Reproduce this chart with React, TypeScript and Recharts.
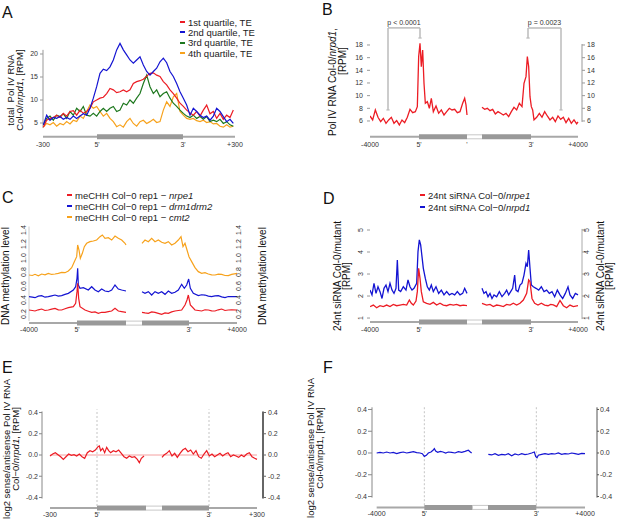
import React from "react";
import { LineChart, Line, XAxis, YAxis, ReferenceLine } from "recharts";

const FONT = '"Liberation Sans", Arial, sans-serif';
const RED = "#ec1c24";
const BLUE = "#1414d2";
const GREEN = "#1e781e";
const ORANGE = "#f7a21c";

// ---- A: total Pol IV RNA by TE quartile (one value every 10 bins, from bin 10)
const q1 = [4.1, 5.6, 6.0, 6.2, 6.7, 6.2, 7.1, 6.5, 7.5, 7.7, 6.7, 7.8, 7.1, 7.5, 8.2, 9.6, 10.0, 10.4, 10.6, 11.4, 12.5, 12.2, 11.6, 11.8, 12.2, 11.8, 12.2, 13.6, 14.0, 14.2, 14.5, 15.2, 15.8, 15.9, 15.4, 15.1, 14.0, 13.3, 12.2, 11.4, 10.4, 9.3, 8.6, 7.8, 7.2, 6.7, 7.5, 6.5, 7.8, 8.9, 7.0, 7.5, 6.0, 7.1, 5.8, 6.7, 6.2, 7.8];
const q2 = [4.6, 6.7, 5.6, 6.2, 6.0, 6.4, 5.8, 6.2, 5.8, 6.5, 6.0, 6.5, 7.0, 6.7, 8.2, 10.4, 12.9, 15.8, 16.7, 16.4, 17.2, 18.7, 20.9, 22.3, 20.9, 19.8, 18.7, 18.0, 18.7, 19.4, 17.6, 16.2, 15.4, 16.2, 16.9, 18.3, 19.1, 18.1, 16.2, 15.1, 13.6, 11.8, 10.4, 8.9, 6.7, 8.2, 7.5, 6.7, 6.2, 6.5, 5.6, 6.5, 8.2, 7.5, 6.4, 5.3, 5.8, 4.9];
const q3 = [4.6, 6.0, 6.5, 5.6, 6.7, 6.4, 7.0, 6.0, 7.5, 6.7, 8.2, 7.5, 8.6, 6.7, 6.5, 7.1, 6.5, 7.5, 8.2, 7.5, 8.2, 8.6, 7.5, 7.8, 9.3, 8.9, 10.0, 9.3, 10.4, 11.4, 13.6, 15.4, 12.9, 11.4, 12.2, 10.7, 11.4, 11.8, 10.4, 9.3, 8.6, 7.8, 7.1, 6.5, 6.2, 6.7, 6.0, 6.4, 5.8, 6.4, 5.3, 5.6, 5.3, 5.8, 4.9, 5.3, 4.6, 4.3];
const q4 = [4.1, 4.9, 4.6, 5.1, 4.3, 4.9, 4.6, 5.3, 4.8, 5.6, 5.3, 6.5, 6.0, 7.5, 8.9, 8.2, 8.6, 7.5, 6.5, 7.1, 6.0, 5.3, 4.2, 4.6, 4.1, 5.3, 6.0, 4.9, 4.3, 5.3, 5.6, 4.9, 5.3, 5.8, 5.1, 5.3, 7.8, 9.6, 8.6, 10.7, 11.4, 7.5, 6.7, 6.0, 5.8, 6.0, 5.5, 5.3, 5.6, 5.1, 5.3, 4.8, 4.9, 4.3, 4.1, 4.6, 4.1, 4.3];
const aRows = q1.map((v, i) => ({ bin: 10 + i * 10, q1: v, q2: q2[i], q3: q3[i], q4: q4[i] }));
const aTicks = [9, 171, 429, 585];
const aTickNames = ["-300", "5'", "3'", "+300"];

// ---- B: Pol IV RNA Col-0/nrpd1 [bin, RPM]
const bLeft = [[30, 6.79], [38, 6.16], [46, 7.74], [54, 6.58], [62, 5.89], [70, 6.42], [78, 5.63], [86, 6.16], [94, 6.58], [102, 5.63], [110, 6.05], [118, 5.37], [126, 6.16], [134, 5.74], [142, 6.58], [150, 7.84], [158, 7.32], [166, 7.47], [172, 8.26], [176, 16.16], [180, 18.26], [184, 14.58], [188, 17.21], [192, 11.95], [196, 8.79], [202, 9.05], [208, 8.0], [214, 9.58], [220, 7.47], [228, 8.37], [236, 7.21], [244, 7.74], [252, 6.95], [260, 7.47], [268, 8.0], [276, 7.74], [284, 7.84], [292, 7.32], [300, 7.47], [308, 8.79], [314, 9.58], [318, 8.53], [321, 6.95]];
const bRight = [[366, 8.16], [374, 7.84], [382, 8.0], [390, 7.63], [398, 7.84], [406, 7.11], [414, 7.47], [422, 7.21], [430, 6.95], [438, 7.21], [446, 6.68], [454, 7.47], [462, 8.16], [470, 7.74], [478, 8.79], [486, 8.26], [492, 11.95], [498, 13.0], [502, 16.16], [506, 14.58], [510, 9.84], [514, 8.26], [518, 7.74], [522, 6.16], [530, 6.58], [538, 7.21], [546, 6.58], [554, 7.47], [562, 6.79], [570, 6.16], [578, 6.58], [586, 5.89], [594, 6.79], [602, 6.26], [610, 6.58], [618, 5.74], [626, 6.42], [634, 5.63], [642, 6.16], [650, 5.53], [654, 5.84]];
const bBrackets = [
  { x1: 84, x2: 180, top: 20.7, y1: 7.74, y2: 19.1, label: "p < 0.0001" },
  { x1: 504, x2: 603, top: 20.7, y1: 19.1, y2: 7.74, label: "p = 0.0023" },
];
const bTicks = [30, 177, 321, 513, 654];
const bTickNames = ["-4000", "5'", "'", "3'", "+4000"];

// ---- C: CHH methylation [bin, level]
const cOrangeL = [[12, 0.757], [22, 0.75], [30, 0.767], [40, 0.745], [50, 0.771], [60, 0.76], [70, 0.781], [80, 0.765], [90, 0.771], [100, 0.78], [110, 0.795], [120, 0.79], [130, 0.814], [140, 0.862], [148, 0.948], [155, 1.019], [158, 1.186], [162, 1.114], [166, 0.995], [172, 1.067], [178, 1.162], [185, 1.21], [195, 1.233], [205, 1.243], [215, 1.257], [225, 1.305], [232, 1.329], [240, 1.281], [250, 1.29], [260, 1.257], [270, 1.314], [280, 1.281], [290, 1.257], [300, 1.21], [303, 1.186]];
const cOrangeR = [[351, 1.21], [360, 1.257], [370, 1.233], [380, 1.281], [390, 1.233], [400, 1.257], [410, 1.224], [420, 1.21], [430, 1.233], [440, 1.186], [450, 1.21], [460, 1.257], [468, 1.305], [474, 1.162], [480, 1.21], [486, 1.114], [492, 1.019], [500, 0.948], [510, 0.862], [520, 0.805], [530, 0.781], [540, 0.79], [550, 0.771], [560, 0.76], [570, 0.757], [580, 0.77], [590, 0.767], [600, 0.75], [610, 0.748], [620, 0.765], [636, 0.781]];
const cBlueL = [[12, 0.448], [22, 0.44], [30, 0.433], [40, 0.455], [50, 0.462], [60, 0.44], [70, 0.448], [80, 0.46], [90, 0.471], [100, 0.455], [110, 0.462], [120, 0.48], [130, 0.495], [145, 0.543], [152, 0.59], [156, 0.71], [158, 0.852], [160, 0.614], [165, 0.567], [175, 0.576], [190, 0.543], [200, 0.59], [210, 0.543], [220, 0.519], [230, 0.557], [240, 0.529], [250, 0.519], [260, 0.543], [270, 0.614], [280, 0.557], [290, 0.543], [303, 0.529]];
const cBlueR = [[351, 0.519], [360, 0.495], [370, 0.519], [380, 0.471], [390, 0.519], [400, 0.495], [410, 0.519], [420, 0.481], [430, 0.529], [440, 0.495], [450, 0.51], [460, 0.543], [470, 0.624], [478, 0.567], [485, 0.614], [491, 0.7], [496, 0.567], [505, 0.495], [520, 0.462], [530, 0.475], [540, 0.471], [550, 0.455], [560, 0.448], [570, 0.46], [580, 0.462], [590, 0.445], [600, 0.433], [610, 0.45], [620, 0.448], [636, 0.448]];
const cRedL = [[12, 0.257], [22, 0.25], [30, 0.243], [40, 0.26], [50, 0.271], [60, 0.25], [70, 0.257], [80, 0.27], [90, 0.281], [100, 0.26], [110, 0.257], [120, 0.275], [130, 0.29], [145, 0.305], [152, 0.352], [156, 0.519], [158, 0.638], [161, 0.424], [165, 0.305], [180, 0.257], [190, 0.24], [200, 0.224], [210, 0.23], [220, 0.21], [230, 0.225], [240, 0.224], [250, 0.235], [260, 0.243], [270, 0.281], [280, 0.243], [290, 0.235], [303, 0.224]];
const cRedR = [[351, 0.224], [360, 0.215], [370, 0.21], [380, 0.23], [390, 0.224], [400, 0.21], [410, 0.195], [420, 0.215], [430, 0.21], [440, 0.23], [450, 0.243], [460, 0.25], [470, 0.257], [480, 0.329], [486, 0.4], [490, 0.471], [496, 0.329], [510, 0.257], [520, 0.25], [530, 0.243], [540, 0.26], [550, 0.257], [560, 0.245], [570, 0.243], [580, 0.26], [590, 0.271], [600, 0.25], [610, 0.257], [620, 0.26], [636, 0.257]];
const cTicks = [12, 156, 492, 636];
const cTickNames = ["-4000", "5'", "3'", "+4000"];
const cYTicks = [0.2, 0.4, 0.6, 0.8, 1.0, 1.2, 1.4];

// ---- D: 24nt siRNA Col-0/mutant [bin, RPM]
const dBlueL = [[30, 2.27], [36, 2.05], [42, 2.58], [48, 2.12], [54, 2.42], [60, 2.2], [66, 1.89], [72, 2.35], [78, 2.5], [84, 2.2], [90, 2.58], [96, 2.27], [102, 2.12], [108, 2.35], [112, 3.64], [116, 2.27], [122, 2.2], [130, 2.42], [138, 2.27], [144, 2.73], [150, 2.42], [156, 2.27], [162, 2.35], [170, 2.58], [174, 4.02], [178, 4.55], [182, 4.32], [186, 3.79], [190, 3.26], [196, 2.8], [202, 2.42], [208, 2.27], [214, 2.5], [220, 2.2], [228, 2.42], [236, 2.12], [244, 2.27], [252, 2.05], [260, 2.2], [268, 2.05], [276, 2.12], [284, 2.05], [292, 2.2], [300, 2.05], [308, 2.12], [314, 2.35], [321, 2.12]];
const dBlueR = [[366, 2.35], [372, 2.12], [378, 2.2], [384, 1.97], [390, 2.12], [396, 1.89], [402, 2.05], [410, 1.97], [418, 2.2], [426, 1.97], [434, 2.12], [440, 2.27], [446, 2.05], [452, 2.2], [458, 2.35], [464, 2.95], [468, 2.27], [474, 2.2], [480, 2.5], [486, 2.58], [492, 2.95], [498, 3.48], [502, 3.33], [506, 4.09], [510, 3.26], [514, 2.5], [520, 2.42], [528, 2.35], [536, 2.27], [544, 2.42], [552, 2.2], [560, 2.27], [568, 2.12], [576, 2.2], [584, 1.97], [592, 2.27], [600, 2.05], [608, 1.89], [616, 2.12], [624, 2.42], [630, 2.05], [638, 1.89], [646, 2.12], [654, 2.05]];
const dRedL = [[30, 1.52], [40, 1.59], [50, 1.47], [60, 1.56], [70, 1.52], [80, 1.59], [90, 1.52], [100, 1.62], [110, 1.56], [120, 1.59], [130, 1.62], [140, 1.59], [148, 1.82], [154, 1.67], [160, 1.59], [168, 1.77], [172, 2.2], [176, 3.26], [180, 2.8], [184, 2.2], [190, 1.74], [200, 1.67], [210, 1.62], [220, 1.71], [230, 1.59], [240, 1.67], [250, 1.59], [260, 1.56], [270, 1.62], [280, 1.59], [290, 1.62], [300, 1.56], [310, 1.59], [321, 1.56]];
const dRedR = [[366, 1.67], [380, 1.59], [390, 1.62], [400, 1.52], [410, 1.59], [420, 1.56], [430, 1.52], [440, 1.62], [450, 1.59], [460, 1.67], [470, 1.59], [480, 1.67], [490, 1.82], [500, 2.12], [506, 2.73], [510, 2.65], [516, 1.89], [524, 1.67], [534, 1.59], [544, 1.67], [554, 1.59], [564, 1.56], [572, 1.62], [580, 1.6], [590, 1.52], [600, 1.8], [610, 1.56], [620, 1.47], [630, 1.59], [640, 1.52], [654, 1.56]];
const dTicks = [30, 177, 513, 654];
const dTickNames = ["-4000", "5'", "3'", "+4000"];

// ---- E / F: log2 sense/antisense [bin, log2]
const eLeft = [[30, -0.009], [38, 0.009], [46, 0.022], [54, 0.003], [62, -0.016], [70, -0.041], [78, -0.016], [86, 0.009], [94, -0.003], [102, 0.003], [110, -0.009], [118, 0.009], [126, -0.016], [134, -0.031], [142, 0.022], [150, 0.041], [158, 0.031], [166, 0.047], [174, 0.078], [178, 0.085], [182, 0.041], [188, 0.063], [194, 0.022], [200, 0.072], [206, 0.041], [212, 0.022], [220, 0.041], [228, 0.031], [236, 0.047], [244, 0.016], [252, -0.016], [260, -0.031], [268, -0.009], [276, -0.022], [284, -0.016], [292, -0.041], [298, -0.072], [304, -0.031], [312, -0.009]];
const eRight = [[366, -0.022], [372, 0], [380, 0.016], [388, 0.041], [396, -0.009], [404, 0.016], [412, -0.022], [420, 0.016], [428, 0.047], [436, 0.063], [444, 0.031], [452, 0.047], [460, 0.009], [468, 0.041], [476, -0.016], [484, -0.031], [492, 0.009], [500, 0.041], [508, -0.009], [516, 0.009], [524, -0.016], [532, 0], [540, 0.016], [548, -0.009], [556, 0.009], [564, 0.022], [572, -0.016], [580, 0], [588, -0.009], [596, -0.022], [604, 0], [612, -0.016], [620, 0.009], [628, 0.022], [636, -0.016], [644, -0.031], [651, -0.041]];
const eTicks = [30, 171, 507, 651];
const eTickNames = ["-300", "5'", "3'", "+300"];
const fLeft = [[215, 0], [225, 0.006], [235, 0], [245, 0.009], [255, 0], [265, 0.006], [275, -0.006], [285, 0.003], [295, 0.009], [305, 0], [315, 0.006], [325, 0.012], [335, 0.003], [345, 0], [352, -0.006], [358, -0.031], [364, -0.021], [370, 0], [378, 0.009], [384, 0.025], [388, 0.04], [392, 0.018], [398, 0.006], [406, 0.015], [414, 0.009], [422, 0], [430, 0.009], [440, 0.006], [450, 0], [460, 0.012], [470, 0.006], [480, 0.015], [490, 0.025], [496, 0.009], [500, 0]];
const fRight = [[550, -0.012], [560, -0.018], [570, -0.006], [580, -0.021], [590, -0.012], [600, -0.018], [610, -0.006], [620, -0.025], [630, -0.009], [640, -0.018], [650, -0.006], [660, -0.015], [670, -0.009], [680, 0], [688, 0.009], [692, -0.031], [696, -0.043], [700, -0.021], [710, -0.012], [720, -0.006], [730, -0.012], [740, -0.006], [750, -0.009], [760, 0], [770, -0.012], [780, -0.006], [790, -0.009], [800, 0], [810, -0.006], [820, -0.012], [830, -0.003], [840, -0.006]];
const fTicks = [215, 358, 694, 840];
const fTickNames = ["-4000", "5'", "3'", "+4000"];
const efYTicks = [-0.4, -0.2, 0, 0.2, 0.4];

// gene model positions (bins)
type Gene = { start: number; s5: number; s3: number; end: number; gap?: [number, number] };
const aGene: Gene = { start: 9, s5: 171, s3: 429, end: 585 };
const bGene: Gene = { start: 30, s5: 177, s3: 513, end: 654, gap: [321, 366] };
const cGene: Gene = { start: 12, s5: 156, s3: 492, end: 636, gap: [303, 351] };
const eGene: Gene = { start: 30, s5: 171, s3: 507, end: 651, gap: [318, 366] };
const fGene: Gene = { start: 215, s5: 358, s3: 694, end: 840, gap: [503, 549] };

const aLegend = [
  { color: RED, text: "1st quartile, TE" },
  { color: BLUE, text: "2nd quartile, TE" },
  { color: GREEN, text: "3rd quartile, TE" },
  { color: ORANGE, text: "4th quartile, TE" },
];
const cLegend = [
  { color: RED, text: "meCHH Col\u22120 rep1 \u2212 ", it: "nrpe1" },
  { color: BLUE, text: "meCHH Col\u22120 rep1 \u2212 ", it: "drm1drm2" },
  { color: ORANGE, text: "meCHH Col\u22120 rep1 \u2212 ", it: "cmt2" },
];
const dLegend = [
  { color: RED, text: "24nt siRNA Col\u22120/", it: "nrpe1" },
  { color: BLUE, text: "24nt siRNA Col\u22120/", it: "nrpd1" },
];

const pts = (a: number[][]) => a.map(([bin, v]) => ({ bin, v }));
const names = (ticks: number[], labels: string[]) => (v: number) => labels[ticks.indexOf(v)] ?? "";
const tickFont = { fontSize: 7, fill: "#333" };

const seg = (key: string, x1: number, x2: number, y: number, stroke: string, w: number) => (
  <ReferenceLine key={key} yAxisId="l" ifOverflow="visible" segment={[{ x: x1, y }, { x: x2, y }]} stroke={stroke} strokeWidth={w} />
);
const vseg = (key: string, x: number, y1: number, y2: number, stroke: string, w = 1, dash?: string) => (
  <ReferenceLine key={key} yAxisId="l" ifOverflow="visible" segment={[{ x, y: y1 }, { x, y: y2 }]} stroke={stroke} strokeWidth={w} strokeDasharray={dash} />
);

const geneBar = (g: Gene, y: number) => {
  const els = [seg("thin", g.start, g.end, y, "#a8a8a8", 2)];
  if (g.gap) {
    els.push(seg("b1", g.s5, g.gap[0], y, "#999", 5));
    els.push(seg("b2", g.gap[1], g.s3, y, "#999", 5));
    els.push(seg("g1", g.gap[0], g.gap[1], y, "#c8c8c8", 5));
    els.push(seg("g2", g.gap[0], g.gap[1], y, "#fff", 3));
  } else {
    els.push(seg("b", g.s5, g.s3, y, "#999", 5));
  }
  return els;
};

const RotTick = (props: any) => {
  const { x, y, payload, digits } = props;
  return (
    <text x={x} y={y} dy="0.35em" textAnchor="middle" fontSize={7} fill="#333" transform={`rotate(-90 ${x} ${y})`}>
      {Number(payload.value).toFixed(digits)}
    </text>
  );
};

// p-value text drawn above the bracket's top bar
const pLabel = (text: string) => (p: any) => {
  const vb = p.viewBox || {};
  const cx = (vb.x ?? 0) + (vb.width ?? 0) / 2;
  return (
    <text x={cx} y={(vb.y ?? 0) - 3} textAnchor="middle" fontSize={7} fill="#333" stroke="none">
      {text}
    </text>
  );
};

const Series = (key: string, data: number[][], color: string, w = 1.2) => (
  <Line key={key} yAxisId="l" data={pts(data)} dataKey="v" stroke={color} strokeWidth={w} dot={false} isAnimationActive={false} />
);

const MiniLegend = ({ left, top, rowH, items }: { left: number; top: number; rowH: number; items: { color: string; text: string; it?: string }[] }) => (
  <div style={{ position: "absolute", left, top, fontSize: 9.5, color: "#222", whiteSpace: "nowrap" }}>
    {items.map((d, i) => (
      <div key={i} style={{ display: "flex", alignItems: "center", height: rowH }}>
        <span style={{ display: "inline-block", width: 5, height: 2, background: d.color, marginRight: 3 }} />
        <span>
          {d.text}
          {d.it && <i>{d.it}</i>}
        </span>
      </div>
    ))}
  </div>
);

const VLabel = ({ x, y, size = 9.5, children }: { x: number; y: number; size?: number; children: React.ReactNode }) => (
  <div
    style={{
      position: "absolute", left: x, top: y, fontSize: size, lineHeight: "9px", color: "#111",
      whiteSpace: "pre", textAlign: "center", transform: "translate(-50%, -50%) rotate(-90deg)",
    }}
  >
    {children}
  </div>
);

const Letter = ({ x, y, t }: { x: number; y: number; t: string }) => (
  <div style={{ position: "absolute", left: x, top: y, fontSize: 16, lineHeight: 1, color: "#111" }}>{t}</div>
);

const Box = ({ left, top, children }: { left: number; top: number; children: React.ReactNode }) => (
  <div style={{ position: "absolute", left, top }}>{children}</div>
);

export default function App() {
  return (
    <div style={{ position: "absolute", left: 0, top: 0, width: 617, height: 525, background: "#fff", fontFamily: FONT, overflow: "hidden" }}>
      {/* A */}
      <Box left={0} top={0}>
        <LineChart width={300} height={160} data={aRows} margin={{ top: 40.2, right: 65, bottom: 3.2, left: 23 }}>
          <XAxis dataKey="bin" type="number" domain={[9, 585]} allowDataOverflow ticks={aTicks} interval={0} tickFormatter={names(aTicks, aTickNames)} axisLine={false} tickLine={false} tickSize={4} tickMargin={1} height={20} tick={tickFont} />
          <YAxis yAxisId="l" type="number" domain={[2, 23]} allowDataOverflow ticks={[5, 10, 15, 20]} interval={0} width={20} axisLine={false} tickLine={{ stroke: "#999" }} tickSize={3} tickMargin={2} tick={tickFont} />
          {geneBar(aGene, 2)}
          {vseg("axA", 9, 3.9, 20.9, "#999")}
          <Line yAxisId="l" dataKey="q4" stroke={ORANGE} strokeWidth={1.2} dot={false} isAnimationActive={false} />
          <Line yAxisId="l" dataKey="q3" stroke={GREEN} strokeWidth={1.2} dot={false} isAnimationActive={false} />
          <Line yAxisId="l" dataKey="q1" stroke={RED} strokeWidth={1.2} dot={false} isAnimationActive={false} />
          <Line yAxisId="l" dataKey="q2" stroke={BLUE} strokeWidth={1.2} dot={false} isAnimationActive={false} />
        </LineChart>
      </Box>
      <MiniLegend left={180} top={16.8} rowH={10.4} items={aLegend} />
      <VLabel x={14.5} y={90} size={9.5}>
        {"total  Pol IV RNA\nCol-0/"}<i>nrpd1</i>{", [RPM]"}
      </VLabel>
      <Letter x={2} y={4.7} t="A" />

      {/* B */}
      <Box left={305} top={0}>
        <LineChart width={312} height={160} margin={{ top: 26, right: 13, bottom: 3.2, left: 43 }}>
          <XAxis dataKey="bin" type="number" domain={[30, 666]} allowDataOverflow ticks={bTicks} interval={0} tickFormatter={names(bTicks, bTickNames)} axisLine={false} tickLine={false} tickSize={4} tickMargin={1} height={20} tick={tickFont} />
          <YAxis yAxisId="l" type="number" domain={[3.5, 21]} allowDataOverflow ticks={[6, 8, 10, 12, 14, 16, 18]} interval={0} width={22} axisLine={false} tickLine={{ stroke: "#999" }} tickSize={3} tickMargin={4} tick={tickFont} />
          <YAxis yAxisId="r" orientation="right" type="number" domain={[3.5, 21]} allowDataOverflow ticks={[6, 8, 10, 12, 14, 16, 18]} interval={0} width={22} axisLine={false} tickLine={{ stroke: "#999" }} tickSize={3} tickMargin={2} tick={tickFont} />
          {geneBar(bGene, 3.5)}
          {vseg("axB", 666, 5.85, 18.15, "#999")}
          {bBrackets.flatMap((k, i) => [
            <ReferenceLine key={`bt${i}`} yAxisId="l" ifOverflow="visible" segment={[{ x: k.x1, y: k.top }, { x: k.x2, y: k.top }]} stroke="#bbb" strokeWidth={1.5} label={pLabel(k.label)} />,
            vseg(`bl${i}`, k.x1, k.y1, k.top, "#bbb", 1.5),
            vseg(`br${i}`, k.x2, k.y2, k.top, "#bbb", 1.5),
            seg(`bla${i}`, k.x1 - 5, k.x1 + 5, k.y1, "#bbb", 1.2),
            seg(`bra${i}`, k.x2 - 5, k.x2 + 5, k.y2, "#bbb", 1.2),
          ])}
          {Series("bl", bLeft, RED, 1.3)}
          {Series("br", bRight, RED, 1.3)}
        </LineChart>
      </Box>
      <VLabel x={332} y={82} size={10}>
        {"Pol IV RNA Col-0/"}<i>nrpd1</i>{","}
      </VLabel>
      <VLabel x={342} y={61} size={10}>{"[RPM]"}</VLabel>
      <Letter x={322} y={2} t="B" />

      {/* C */}
      <Box left={0} top={170}>
        <LineChart width={300} height={175} margin={{ top: 56.5, right: 51, bottom: 3.9, left: 17 }}>
          <XAxis dataKey="bin" type="number" domain={[12, 636]} allowDataOverflow ticks={cTicks} interval={0} tickFormatter={names(cTicks, cTickNames)} axisLine={false} tickLine={false} tickSize={3} tickMargin={1} height={18} tick={tickFont} />
          <YAxis yAxisId="l" type="number" domain={[0.07, 1.45]} allowDataOverflow ticks={cYTicks} interval={0} width={12} axisLine={false} tickLine={false} tickSize={1} tickMargin={4} tick={<RotTick digits={1} />} />
          <YAxis yAxisId="r" orientation="right" type="number" domain={[0.07, 1.45]} allowDataOverflow ticks={cYTicks} interval={0} width={12} axisLine={false} tickLine={false} tickSize={1} tickMargin={1} tick={<RotTick digits={1} />} />
          {geneBar(cGene, 0.07)}
          {vseg("axC", 12, 0.1, 1.45, "#ccc")}
          {Series("col", cOrangeL, ORANGE)}
          {Series("cor", cOrangeR, ORANGE)}
          {Series("cbl", cBlueL, BLUE)}
          {Series("cbr", cBlueR, BLUE)}
          {Series("crl", cRedL, RED)}
          {Series("crr", cRedR, RED)}
        </LineChart>
      </Box>
      <MiniLegend left={67} top={189.5} rowH={11} items={cLegend} />
      <VLabel x={5} y={276} size={10}>{"DNA methylation level"}</VLabel>
      <VLabel x={262} y={276} size={10}>{"DNA methylation level"}</VLabel>
      <Letter x={2} y={190} t="C" />

      {/* D */}
      <Box left={305} top={170}>
        <LineChart width={312} height={175} margin={{ top: 57.8, right: 15, bottom: 3, left: 45 }}>
          <XAxis dataKey="bin" type="number" domain={[30, 666]} allowDataOverflow ticks={dTicks} interval={0} tickFormatter={names(dTicks, dTickNames)} axisLine={false} tickLine={false} tickSize={4} tickMargin={1} height={20} tick={tickFont} />
          <YAxis yAxisId="l" type="number" domain={[0.82, 5.1]} allowDataOverflow ticks={[1, 2, 3, 4, 5]} interval={0} width={20} axisLine={false} tickLine={{ stroke: "#999" }} tickSize={3} tickMargin={6} tick={<RotTick digits={0} />} />
          <YAxis yAxisId="r" orientation="right" type="number" domain={[0.82, 5.1]} allowDataOverflow ticks={[1, 2, 3, 4, 5]} interval={0} width={20} axisLine={false} tickLine={{ stroke: "#999" }} tickSize={3} tickMargin={2} tick={<RotTick digits={0} />} />
          {geneBar(bGene, 0.82)}
          {vseg("axD", 666, 0.95, 5.05, "#aaa")}
          {Series("dbl", dBlueL, BLUE, 1.3)}
          {Series("dbr", dBlueR, BLUE, 1.3)}
          {Series("drl", dRedL, RED, 1.3)}
          {Series("drr", dRedR, RED, 1.3)}
        </LineChart>
      </Box>
      <MiniLegend left={420} top={189} rowH={12} items={dLegend} />
      <VLabel x={342} y={276} size={10}>{"24nt siRNA Col-0/mutant\n[RPM]"}</VLabel>
      <VLabel x={605} y={276} size={10}>{"24nt siRNA Col-0/mutant\n[RPM]"}</VLabel>
      <Letter x={323} y={191} t="D" />

      {/* E */}
      <Box left={0} top={340}>
        <LineChart width={300} height={185} margin={{ top: 70.4, right: 12, bottom: 2.9, left: 20 }}>
          <XAxis dataKey="bin" type="number" domain={[6, 669]} allowDataOverflow ticks={eTicks} interval={0} tickFormatter={names(eTicks, eTickNames)} axisLine={false} tickLine={false} tickSize={3} tickMargin={1} height={14} tick={tickFont} />
          <YAxis yAxisId="l" type="number" domain={[-0.5, 0.42]} allowDataOverflow ticks={efYTicks} interval={0} width={22} axisLine={false} tickLine={{ stroke: "#888" }} tickSize={3} tickMargin={1} tick={tickFont} tickFormatter={(v: number) => v.toFixed(1)} />
          <YAxis yAxisId="r" orientation="right" type="number" domain={[-0.5, 0.42]} allowDataOverflow ticks={efYTicks} interval={0} width={25} axisLine={false} tickLine={{ stroke: "#666" }} tickSize={3} tickMargin={2} tick={tickFont} tickFormatter={(v: number) => v.toFixed(1)} />
          {geneBar(eGene, -0.5)}
          {vseg("axEl", 6, -0.41, 0.41, "#888")}
          {vseg("axEr", 669, -0.41, 0.41, "#666", 2)}
          {vseg("e5", eGene.s5, -0.48, 0.43, "#c4c4c4", 1, "2 2")}
          {vseg("e3", eGene.s3, -0.48, 0.43, "#c4c4c4", 1, "2 2")}
          {seg("e0", 30, 651, 0, "#f4a0a0", 1)}
          {Series("el", eLeft, RED)}
          {Series("er", eRight, RED)}
        </LineChart>
      </Box>
      <VLabel x={10.5} y={449} size={9.5}>
        {"log2 sense/antisense Pol IV RNA\nCol\u22120/"}<i>nrpd1</i>{", [RPM]"}
      </VLabel>
      <Letter x={2} y={360} t="E" />

      {/* F */}
      <Box left={305} top={340}>
        <LineChart width={312} height={185} margin={{ top: 67.3, right: 0, bottom: 3.6, left: 42 }}>
          <XAxis dataKey="bin" type="number" domain={[201, 876]} allowDataOverflow ticks={fTicks} interval={0} tickFormatter={names(fTicks, fTickNames)} axisLine={false} tickLine={false} tickSize={3} tickMargin={1} height={14} tick={tickFont} />
          <YAxis yAxisId="l" type="number" domain={[-0.5, 0.42]} allowDataOverflow ticks={efYTicks} interval={0} width={25} axisLine={false} tickLine={{ stroke: "#888" }} tickSize={4} tickMargin={1} tick={tickFont} tickFormatter={(v: number) => v.toFixed(1)} />
          <YAxis yAxisId="r" orientation="right" type="number" domain={[-0.5, 0.42]} allowDataOverflow ticks={efYTicks} interval={0} width={20} axisLine={false} tickLine={{ stroke: "#555" }} tickSize={2} tickMargin={1} tick={tickFont} tickFormatter={(v: number) => v.toFixed(1)} />
          {geneBar(fGene, -0.5)}
          {vseg("axFl", 201, -0.41, 0.42, "#888")}
          {vseg("axFr", 876, -0.41, 0.42, "#555")}
          {vseg("f5", fGene.s5, -0.48, 0.43, "#c4c4c4", 1, "2 2")}
          {vseg("f3", fGene.s3, -0.48, 0.43, "#c4c4c4", 1, "2 2")}
          {Series("fl", fLeft, BLUE)}
          {Series("fr", fRight, BLUE)}
        </LineChart>
      </Box>
      <VLabel x={315} y={448} size={9.5}>{"log2 sense/antisense Pol IV RNA\nCol-0/nrpd1, [RPM]"}</VLabel>
      <Letter x={323} y={360} t="F" />
    </div>
  );
}
